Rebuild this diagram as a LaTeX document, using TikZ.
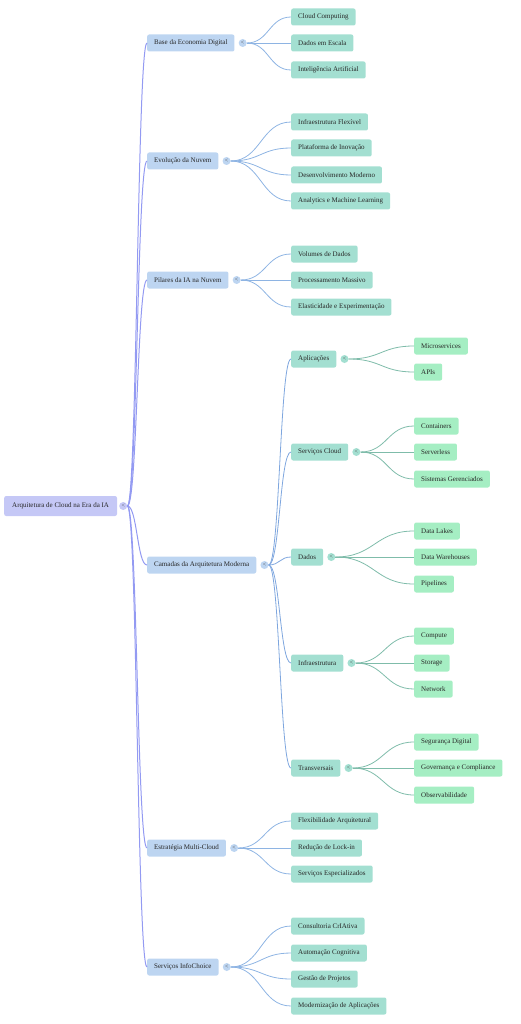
\documentclass[tikz,border=0pt]{standalone}
\usepackage{fontspec}
\setmainfont{Liberation Serif}
\usetikzlibrary{calc}
\definecolor{rootc}{HTML}{C5C8F6}
\definecolor{lonec}{HTML}{BDD5F1}
\definecolor{mintc}{HTML}{A3DFD1}
\definecolor{greenc}{HTML}{A5EEC3}
\definecolor{e0c}{HTML}{939AF2}
\definecolor{e1c}{HTML}{8EB4E3}
\definecolor{e2c}{HTML}{7EA6DE}
\definecolor{e3c}{HTML}{7FBCAA}
\tikzset{
 box/.style={rounded corners=2pt, minimum height=17pt, inner xsep=7pt, inner ysep=0pt, anchor=west, font=\fontsize{7}{8}\selectfont, text=black!85},
 rootbox/.style={box, fill=rootc, minimum height=20pt, inner xsep=8pt},
 lonebox/.style={box, fill=lonec},
 mintbox/.style={box, fill=mintc},
 greenbox/.style={box, fill=greenc},
 tog/.style={circle, minimum size=8pt, inner sep=0pt, font=\fontsize{6}{6}\selectfont, text=black!70},
 ez/.style={draw=e0c, line width=1pt},
 eo/.style={draw=e1c, line width=0.8pt},
 et/.style={draw=e2c, line width=0.8pt},
 eh/.style={draw=e3c, line width=0.8pt},
}
\newcommand{\conn}[3]{\draw[#1] let \p1=(#2), \p2=(#3) in (\p1) .. controls ({(\x1+\x2)/2},\y1) and ({(\x1+\x2)/2},\y2) .. (\p2);}
\begin{document}
\begin{tikzpicture}[x=1pt,y=-1pt]
\useasboundingbox (0,0) rectangle (520,1024);
% root
\node[rootbox] (r) at (4,506) {Arquitetura de Cloud na Era da IA};
\node[tog, fill=rootc] (t0) at ($(r.east)+(6,0)$) {<};
% level 1
\node[lonebox] (b1) at (147,43) {Base da Economia Digital};
\node[lonebox] (b2) at (147,161) {Evolução da Nuvem};
\node[lonebox] (b3) at (147,280) {Pilares da IA na Nuvem};
\node[lonebox] (b4) at (147,565) {Camadas da Arquitetura Moderna};
\node[lonebox] (b5) at (147,848) {Estratégia Multi-Cloud};
\node[lonebox] (b6) at (147,967) {Serviços InfoChoice};
\foreach \i in {1,...,6} {\node[tog, fill=lonec] (t\i) at ($(b\i.east)+(8,0)$) {<};}
% leaves of b1
\node[mintbox] (c11) at (291,17) {Cloud Computing};
\node[mintbox] (c12) at (291,43) {Dados em Escala};
\node[mintbox] (c13) at (291,70) {Inteligência Artificial};
% b2
\node[mintbox] (c21) at (291,122) {Infraestrutura Flexível};
\node[mintbox] (c22) at (291,148) {Plataforma de Inovação};
\node[mintbox] (c23) at (291,175) {Desenvolvimento Moderno};
\node[mintbox] (c24) at (291,201) {Analytics e Machine Learning};
% b3
\node[mintbox] (c31) at (291,254) {Volumes de Dados};
\node[mintbox] (c32) at (291,280) {Processamento Massivo};
\node[mintbox] (c33) at (291,307) {Elasticidade e Experimentação};
% b4 level 2
\node[mintbox] (d1) at (291,359) {Aplicações};
\node[mintbox] (d2) at (291,452) {Serviços Cloud};
\node[mintbox] (d3) at (291,557) {Dados};
\node[mintbox] (d4) at (291,663) {Infraestrutura};
\node[mintbox] (d5) at (291,768) {Transversais};
\foreach \i in {1,...,5} {\node[tog, fill=mintc] (u\i) at ($(d\i.east)+(8,0)$) {<};}
\node[greenbox] (g11) at (414,346) {Microservices};
\node[greenbox] (g12) at (414,372) {APIs};
\node[greenbox] (g21) at (414,426) {Containers};
\node[greenbox] (g22) at (414,452) {Serverless};
\node[greenbox] (g23) at (414,479) {Sistemas Gerenciados};
\node[greenbox] (g31) at (414,531) {Data Lakes};
\node[greenbox] (g32) at (414,557) {Data Warehouses};
\node[greenbox] (g33) at (414,584) {Pipelines};
\node[greenbox] (g41) at (414,636) {Compute};
\node[greenbox] (g42) at (414,663) {Storage};
\node[greenbox] (g43) at (414,689) {Network};
\node[greenbox] (g51) at (414,742) {Segurança Digital};
\node[greenbox] (g52) at (414,768) {Governança e Compliance};
\node[greenbox] (g53) at (414,795) {Observabilidade};
% b5
\node[mintbox] (c51) at (291,821) {Flexibilidade Arquitetural};
\node[mintbox] (c52) at (291,848) {Redução de Lock-in};
\node[mintbox] (c53) at (291,874) {Serviços Especializados};
% b6
\node[mintbox] (c61) at (291,926) {Consultoria CrIAtiva};
\node[mintbox] (c62) at (291,953) {Automação Cognitiva};
\node[mintbox] (c63) at (291,979) {Gestão de Projetos};
\node[mintbox] (c64) at (291,1006) {Modernização de Aplicações};
% edges
\foreach \i in {1,...,6} {\conn{ez}{t0.east}{b\i.west}}
\foreach \j in {1,2,3} {\conn{eo}{t1.east}{c1\j.west}}
\foreach \j in {1,2,3,4} {\conn{eo}{t2.east}{c2\j.west}}
\foreach \j in {1,2,3} {\conn{eo}{t3.east}{c3\j.west}}
\foreach \j in {1,...,5} {\conn{et}{t4.east}{d\j.west}}
\foreach \j in {1,2,3} {\conn{eo}{t5.east}{c5\j.west}}
\foreach \j in {1,2,3,4} {\conn{eo}{t6.east}{c6\j.west}}
\foreach \j in {1,2} {\conn{eh}{u1.east}{g1\j.west}}
\foreach \j in {1,2,3} {\conn{eh}{u2.east}{g2\j.west}}
\foreach \j in {1,2,3} {\conn{eh}{u3.east}{g3\j.west}}
\foreach \j in {1,2,3} {\conn{eh}{u4.east}{g4\j.west}}
\foreach \j in {1,2,3} {\conn{eh}{u5.east}{g5\j.west}}
\end{tikzpicture}
\end{document}
